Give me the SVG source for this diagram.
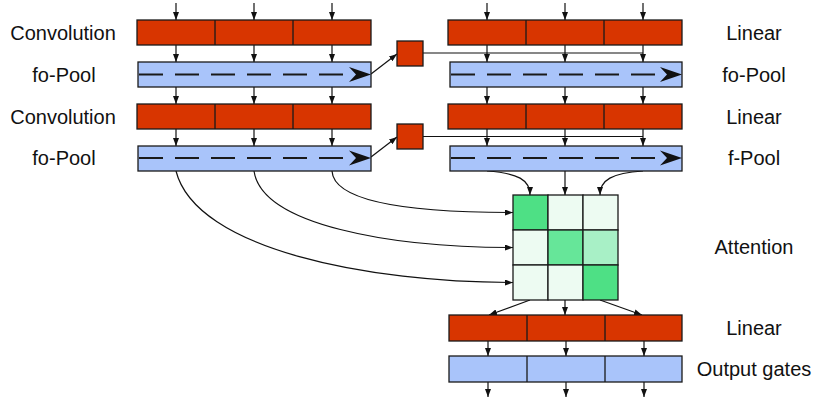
<svg xmlns="http://www.w3.org/2000/svg" width="822" height="402" viewBox="0 0 822 402">
<style>
.red{fill:#d83500;stroke:#1a1a1a;stroke-width:1.3}
.blue{fill:#a9c4fa;stroke:#1a1a1a;stroke-width:1.3}
.div{stroke:#1a1a1a;stroke-width:1.3}
.dash{stroke:#1a1a1a;stroke-width:2;stroke-dasharray:24 12;fill:none}
.head{fill:#111}
.lbl{font-family:"Liberation Sans",Arial,sans-serif;font-size:20px;fill:#111;text-anchor:middle}
.c{stroke:#111;stroke-width:1.2;fill:none}
.ca{stroke:#111;stroke-width:1.2;fill:none;marker-end:url(#ah)}
.g0{fill:#4ee085;stroke:#1a1a1a;stroke-width:1.3}
.g1{fill:#66e699;stroke:#1a1a1a;stroke-width:1.3}
.g2{fill:#a8f0c6;stroke:#1a1a1a;stroke-width:1.3}
.g3{fill:#edfbf2;stroke:#1a1a1a;stroke-width:1.3}
</style>
<defs>
<marker id="ah" viewBox="0 0 8 6" refX="8" refY="3" markerWidth="8" markerHeight="6" orient="auto" markerUnits="userSpaceOnUse"><path d="M0,0 L8,3 L0,6 z" fill="#111"/></marker>
</defs>

<g id="connectors">
<path class="c" d="M423,53 H643"/>
<path class="c" d="M423,136.5 H643"/>
<path class="ca" d="M176,3 V20"/><path class="ca" d="M254,3 V20"/><path class="ca" d="M332,3 V20"/>
<path class="ca" d="M176,45 V62"/><path class="ca" d="M254,45 V62"/><path class="ca" d="M332,45 V62"/>
<path class="ca" d="M176,87 V104"/><path class="ca" d="M254,87 V104"/><path class="ca" d="M332,87 V104"/>
<path class="ca" d="M176,129 V146"/><path class="ca" d="M254,129 V146"/><path class="ca" d="M332,129 V146"/>
<path class="ca" d="M487,3 V20"/><path class="ca" d="M565,3 V20"/><path class="ca" d="M643,3 V20"/>
<path class="ca" d="M487,45 V62"/><path class="ca" d="M565,45 V62"/><path class="ca" d="M643,45 V62"/>
<path class="ca" d="M487,87 V104"/><path class="ca" d="M565,87 V104"/><path class="ca" d="M643,87 V104"/>
<path class="ca" d="M487,129 V146"/><path class="ca" d="M565,129 V146"/><path class="ca" d="M643,129 V146"/>
<path class="ca" d="M371,74 L397,54"/>
<path class="ca" d="M371,157 L397,137"/>
<path class="ca" d="M487,171 C518,173 530,180 530,195"/>
<path class="ca" d="M565,171 V195"/>
<path class="ca" d="M643,171 C612,173 600,180 600,195"/>
<path class="ca" d="M332,171 C334,204 420,212.5 513,212.5"/>
<path class="ca" d="M254,171 C262,225 390,247.5 513,247.5"/>
<path class="ca" d="M176,171 C196,250 370,282.5 513,282.5"/>
<path class="ca" d="M530,300 L489,315"/>
<path class="ca" d="M565,300 V315"/>
<path class="ca" d="M600,300 L642,315"/>
<path class="ca" d="M488,341 V356"/><path class="ca" d="M566,341 V356"/><path class="ca" d="M644,341 V356"/>
<path class="ca" d="M488,382 V397"/><path class="ca" d="M566,382 V397"/><path class="ca" d="M644,382 V397"/>
</g>

<g id="conv1">
<rect class="red" x="137" y="20" width="234" height="25"/>
<path class="div" d="M215,20 V45 M293,20 V45"/>
</g>
<g id="fopool1">
<rect class="blue" x="138" y="62" width="233" height="25"/>
<path class="dash" d="M139,74.5 H345"/>
<path class="head" d="M349,67 L371,74.5 L349,82 L356,74.5 z"/>
</g>
<g id="conv2">
<rect class="red" x="137" y="104" width="234" height="25"/>
<path class="div" d="M215,104 V129 M293,104 V129"/>
</g>
<g id="fopool2">
<rect class="blue" x="138" y="146" width="233" height="25"/>
<path class="dash" d="M139,158 H345"/>
<path class="head" d="M349,150.5 L371,158 L349,165.5 L356,158 z"/>
</g>
<g id="gate1"><rect class="red" x="397" y="41" width="26" height="25"/></g>
<g id="gate2"><rect class="red" x="397" y="124" width="26" height="25"/></g>

<g id="linear1">
<rect class="red" x="448" y="20" width="234" height="25"/>
<path class="div" d="M526,20 V45 M604,20 V45"/>
</g>
<g id="fopool3">
<rect class="blue" x="450" y="62" width="232" height="25"/>
<path class="dash" d="M451,74.5 H657"/>
<path class="head" d="M660,67 L682,74.5 L660,82 L667,74.5 z"/>
</g>
<g id="linear2">
<rect class="red" x="448" y="104" width="234" height="25"/>
<path class="div" d="M526,104 V129 M604,104 V129"/>
</g>
<g id="fpool">
<rect class="blue" x="450" y="146" width="232" height="25"/>
<path class="dash" d="M451,158 H657"/>
<path class="head" d="M660,150.5 L682,158 L660,165.5 L667,158 z"/>
</g>

<g id="attention">
<rect class="g0" x="513" y="195" width="35" height="35"/>
<rect class="g3" x="548" y="195" width="35" height="35"/>
<rect class="g3" x="583" y="195" width="35" height="35"/>
<rect class="g3" x="513" y="230" width="35" height="35"/>
<rect class="g1" x="548" y="230" width="35" height="35"/>
<rect class="g2" x="583" y="230" width="35" height="35"/>
<rect class="g3" x="513" y="265" width="35" height="35"/>
<rect class="g3" x="548" y="265" width="35" height="35"/>
<rect class="g0" x="583" y="265" width="35" height="35"/>
</g>

<g id="linear3">
<rect class="red" x="449" y="315" width="233" height="26"/>
<path class="div" d="M527,315 V341 M605,315 V341"/>
</g>
<g id="outgates">
<rect class="blue" x="449" y="356" width="233" height="26"/>
<path class="div" d="M527,356 V382 M605,356 V382"/>
</g>

<g id="labels">
<text class="lbl" x="63" y="40">Convolution</text>
<text class="lbl" x="64" y="82">fo-Pool</text>
<text class="lbl" x="63" y="124">Convolution</text>
<text class="lbl" x="64" y="165">fo-Pool</text>
<text class="lbl" x="754" y="40">Linear</text>
<text class="lbl" x="754" y="82">fo-Pool</text>
<text class="lbl" x="754" y="124">Linear</text>
<text class="lbl" x="754" y="165">f-Pool</text>
<text class="lbl" x="754" y="254">Attention</text>
<text class="lbl" x="754" y="335">Linear</text>
<text class="lbl" x="754" y="376">Output gates</text>
</g>
</svg>
